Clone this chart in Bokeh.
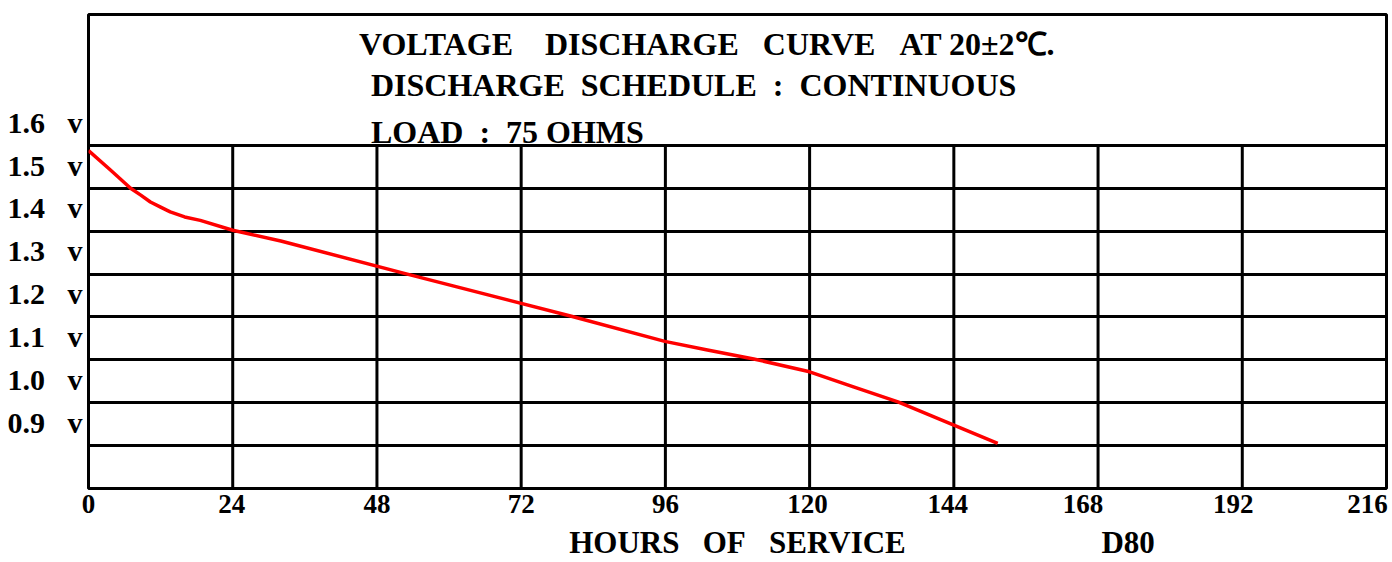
from bokeh.plotting import figure
from bokeh.models import Range1d, FixedTicker, Label, CustomJSTickFormatter, LinearAxis
from bokeh.embed import file_html
from bokeh.resources import INLINE

# ---- data ----
hours = [0, 3.7, 7.0, 8.7, 10.3, 12.0, 13.6, 16.0, 18.6, 24.0, 32.0, 52.4, 80.2, 95.9,
         103.0, 110.7, 120.0, 127.3, 134.7, 143.8, 151.3]
volts = [1.588, 1.542, 1.500, 1.484, 1.468, 1.456, 1.445, 1.433, 1.425, 1.402, 1.377,
         1.302, 1.202, 1.143, 1.123, 1.102, 1.072, 1.037, 1.002, 0.949, 0.905]

hour_ticks = [0, 24, 48, 72, 96, 120, 144, 168, 192, 216]
HOUR_STEP = 24
volt_ticks = [0.9, 1.0, 1.1, 1.2, 1.3, 1.4, 1.5, 1.6]
title_lines = ["VOLTAGE\u00a0\u00a0\u00a0\u00a0DISCHARGE\u00a0\u00a0\u00a0CURVE\u00a0\u00a0\u00a0AT 20\u00b12\u2103.",
               "DISCHARGE\u00a0\u00a0SCHEDULE\u00a0\u00a0:\u00a0\u00a0CONTINUOUS",
               "LOAD\u00a0\u00a0:\u00a0\u00a075 OHMS"]
bottom_texts = ["HOURS\u00a0\u00a0\u00a0OF\u00a0\u00a0\u00a0SERVICE", "D80"]

# ---- layout / style ----
Y_BOTTOM, Y_TOP = 0.8, 1.905
PX_PER_HOUR = 1298 / 216
x_label_shift_px = [0, -1, 0, 0, 0, -2, -6, -15, -9, -19]
bottom_text_pos = [108.0, 173.0]   # hours, centre of each bottom text
Y_LABEL_OFFSET = 0.054             # labels sit in the band above their grid line
SERIF = "Liberation Serif"

p = figure(width=1392, height=562,
           x_range=Range1d(hour_ticks[0], hour_ticks[-1]),
           y_range=Range1d(Y_BOTTOM, Y_TOP),
           output_backend="svg", toolbar_location=None,
           min_border_left=88, min_border_right=6,
           min_border_top=14, min_border_bottom=74)

p.background_fill_color = "white"
p.border_fill_color = "white"
p.outline_line_color = "black"
p.outline_line_width = 3
p.outline_line_alpha = 1.0

# grid
p.xgrid.grid_line_color = None
p.ygrid.ticker = FixedTicker(ticks=volt_ticks)
p.ygrid.grid_line_color = "black"
p.ygrid.grid_line_width = 3
p.ygrid.grid_line_alpha = 1.0

inner = hour_ticks[1:-1]
p.segment(x0=inner, x1=inner, y0=[Y_BOTTOM] * len(inner),
          y1=[max(volt_ticks)] * len(inner), line_color="black", line_width=3)

# curve
p.line(hours, volts, line_color="#ff0000", line_width=3.5, line_join="round")


def style_axis(ax, size):
    ax.axis_line_color = None
    ax.major_tick_line_color = None
    ax.minor_tick_line_color = None
    ax.major_label_text_font = SERIF
    ax.major_label_text_font_style = "bold"
    ax.major_label_text_color = "black"
    ax.major_label_text_font_size = size


style_axis(p.xaxis[0], "27px")
style_axis(p.yaxis[0], "30px")

p.xaxis.ticker = FixedTicker(ticks=[t + s / PX_PER_HOUR for t, s in zip(hour_ticks, x_label_shift_px)])
p.xaxis.formatter = CustomJSTickFormatter(args=dict(step=HOUR_STEP),
                                          code="return String(Math.round(tick / step) * step);")
p.xaxis.major_label_standoff = 0

# second row under the hour labels: axis title and model name
title_axis = LinearAxis(ticker=FixedTicker(ticks=bottom_text_pos),
                        formatter=CustomJSTickFormatter(args=dict(labels=bottom_texts),
                                                        code="return labels[index];"))
style_axis(title_axis, "31px")
title_axis.major_label_standoff = 3
p.add_layout(title_axis, "below")

p.yaxis.ticker = FixedTicker(ticks=[v + Y_LABEL_OFFSET for v in volt_ticks])
p.yaxis.formatter = CustomJSTickFormatter(args=dict(off=Y_LABEL_OFFSET),
                                          code="return (tick - off).toFixed(1) + '\\u00a0\\u00a0\\u00a0v';")
p.yaxis.major_label_standoff = 0

# title lines inside the frame
title_pos = [(45.0, 1.8354), (47.0, 1.7399), (47.0, 1.6303)]
for txt, (tx, ty) in zip(title_lines, title_pos):
    p.add_layout(Label(x=tx, y=ty, text=txt, text_font=SERIF, text_font_style="bold",
                       text_font_size="32px", text_color="black",
                       text_align="left", text_baseline="alphabetic"))

open("out.html", "w").write(file_html(p, INLINE))
